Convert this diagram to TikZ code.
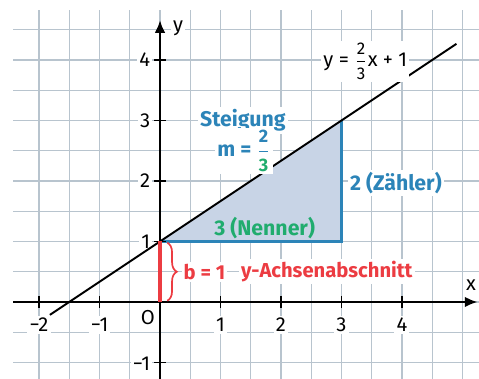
\documentclass[tikz,border=0pt]{standalone}
\usepackage{amsmath}
\usepackage{fontspec}
\setmainfont{Fira Sans}
\usetikzlibrary{calc,arrows.meta}
\usetikzlibrary{decorations.pathreplacing}
\definecolor{gridgray}{RGB}{184,196,206}
\definecolor{stblue}{RGB}{44,132,184}
\definecolor{stgreen}{RGB}{32,172,110}
\definecolor{stred}{RGB}{236,60,66}
\definecolor{trifill}{RGB}{200,212,230}

\begin{document}
\begin{tikzpicture}[font=\fontsize{9.5}{11}\selectfont]
\useasboundingbox (-2.645,-1.273) rectangle (5.273,4.992);
\draw[gridgray,line width=0.6pt,step=0.5] (-2.43,-1.273) grid (5.273,4.83);
\fill[trifill] (0,1) -- (3,1) -- (3,3) -- cycle;
\draw[stblue,line width=1.4pt] (0,1) -- (3,1) -- (3,3);
\draw[-{Latex[length=6pt,width=5pt]},line width=1.1pt] (-2.43,0) -- (5.25,0);
\draw[-{Latex[length=6pt,width=5pt]},line width=1.1pt] (0,-1.273) -- (0,4.66);
\draw[line width=0.9pt] (-2,0.1) -- (-2,-0.1); \draw[line width=0.9pt] (-1,0.1) -- (-1,-0.1);
\draw[line width=0.9pt] (1,0.1) -- (1,-0.1); \draw[line width=0.9pt] (2,0.1) -- (2,-0.1);
\draw[line width=0.9pt] (3,0.1) -- (3,-0.1); \draw[line width=0.9pt] (4,0.1) -- (4,-0.1);
\draw[line width=0.9pt] (-0.1,-1) -- (0.1,-1); \draw[line width=0.9pt] (-0.1,1) -- (0.1,1);
\draw[line width=0.9pt] (-0.1,2) -- (0.1,2); \draw[line width=0.9pt] (-0.1,3) -- (0.1,3);
\draw[line width=0.9pt] (-0.1,4) -- (0.1,4);
\node[fill=white,inner sep=1pt] (xm2) at (-2,-0.38) {−2};
\node[fill=white,inner sep=1pt] (xm1) at (-1,-0.38) {−1};
\node[fill=white,inner sep=1pt] (x1) at (1,-0.38) {1};
\node[fill=white,inner sep=1pt] (x2) at (2,-0.38) {2};
\node[fill=white,inner sep=1pt] (x3) at (3,-0.38) {3};
\node[fill=white,inner sep=1pt] (x4) at (4,-0.38) {4};
\node[fill=white,inner sep=1pt,anchor=east] (ym1) at (-0.12,-1.02) {−1};
\node[fill=white,inner sep=1pt,anchor=east] (y1) at (-0.12,1) {1};
\node[fill=white,inner sep=1pt,anchor=east] (y2) at (-0.12,2) {2};
\node[fill=white,inner sep=1pt,anchor=east] (y3) at (-0.12,3) {3};
\node[fill=white,inner sep=1pt,anchor=east] (y4) at (-0.12,4) {4};
\node[fill=white,inner sep=1pt] (orig) at (-0.2,-0.25) {O};
\node[fill=white,inner sep=1pt] (xlab) at (5.14,0.28) {x};
\node[fill=white,inner sep=1pt] (ylab) at (0.3,4.53) {y};
\draw[line width=0.9pt] (-1.82,-0.213) -- (4.9,4.267);
\node[fill=white,inner sep=1pt,anchor=west] (gl) at (2.66,3.98) {y = $\dfrac{\text{\fontsize{8}{9}\selectfont 2}}{\text{\fontsize{8}{9}\selectfont 3}}$x + 1};
\node[stblue,fill=white,inner sep=1pt,font=\fontsize{10}{12}\selectfont\bfseries] (steig) at (1.37,3.0) {Steigung};
\node[stblue,fill=white,inner sep=1pt,font=\fontsize{10}{12}\selectfont\bfseries] (mval) at (1.39,2.5) {m = $\dfrac{\text{\fontsize{8.5}{9}\selectfont\bfseries 2}}{\text{\fontsize{8.5}{9}\selectfont\bfseries\color{stgreen}3}}$};
\node[stblue,fill=white,inner sep=1pt,anchor=west,font=\fontsize{10}{12}\selectfont\bfseries] (zaehl) at (3.1,1.97) {2 (Zähler)};
\node[stgreen,inner sep=1pt,font=\fontsize{10}{12}\selectfont\bfseries] (nenn) at (1.73,1.22) {3 (Nenner)};
\draw[stred,line width=1.5pt] (0,0) -- (0,1);
\draw[stred,line width=0.8pt,decorate,decoration={brace,amplitude=4.5pt}] (0.12,0.98) -- (0.12,0.02);
\node[stred,fill=white,inner sep=1pt,anchor=west,font=\fontsize{9.5}{11}\selectfont\bfseries] (bval) at (0.35,0.5) {b = 1};
\node[stred,fill=white,inner sep=1pt,anchor=west,font=\fontsize{9.5}{11}\selectfont\bfseries] (yab) at (1.3,0.5) {y-Achsenabschnitt};
\end{tikzpicture}
\end{document}
